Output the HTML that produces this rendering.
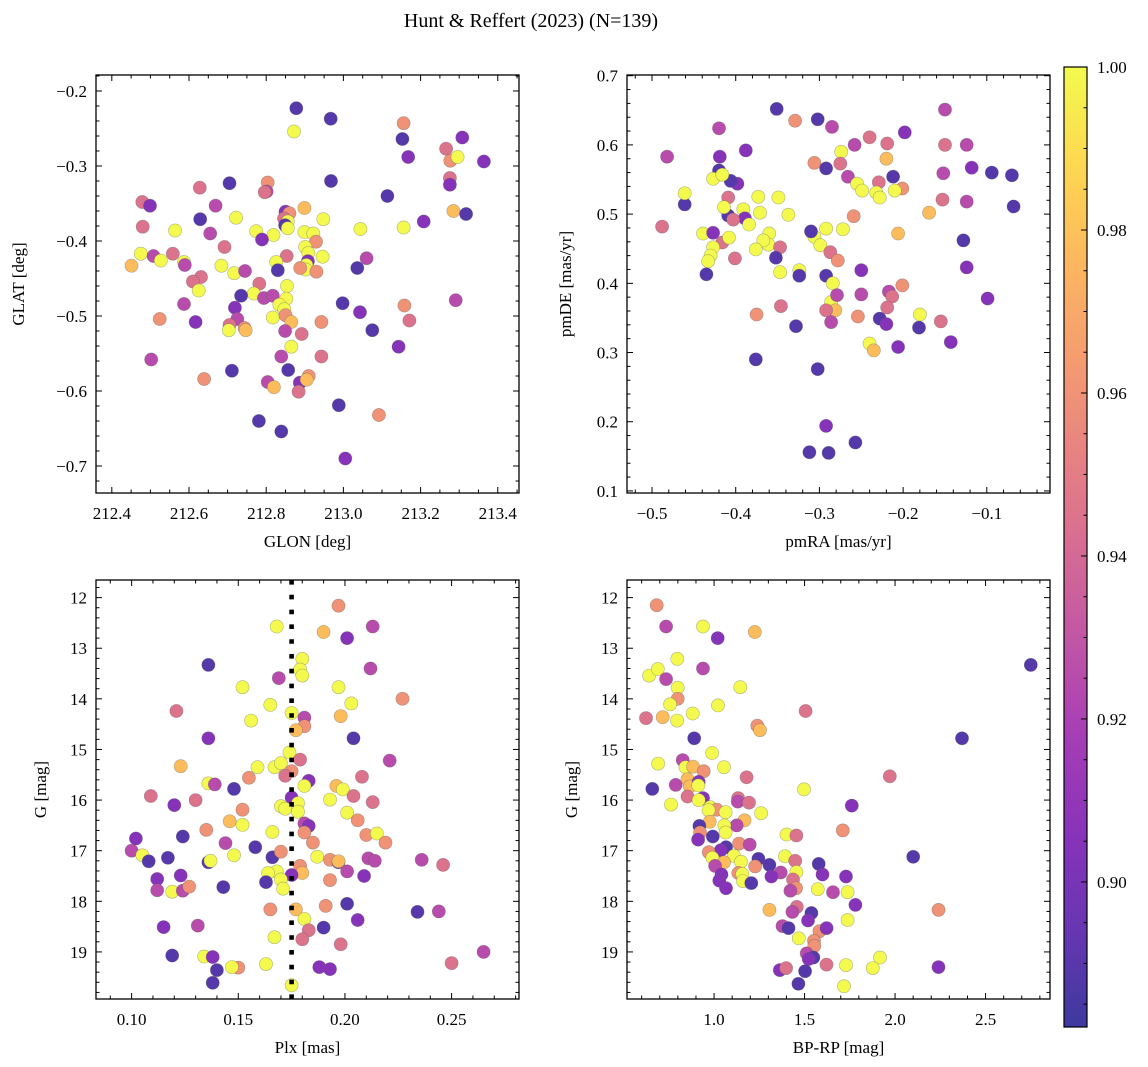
<!DOCTYPE html>
<html><head><meta charset="utf-8"><title>Hunt & Reffert (2023)</title>
<style>
html,body{margin:0;padding:0;background:#fff;}
svg{display:block;font-family:"Liberation Serif","DejaVu Serif",serif;}
</style></head>
<body>
<svg id="fig" width="1148" height="1067" viewBox="0 0 1148 1067" xmlns="http://www.w3.org/2000/svg">
<text x="531" y="27" font-size="20" text-anchor="middle">Hunt &amp; Reffert (2023) (N=139)</text>
</svg>
<script>
// ---- data: [x, y, membership probability] ----
const skyPoints = [[212.878,-0.223,.889],[212.967,-0.237,.889],[212.872,-0.254,1],[213.156,-0.243,.96],[213.153,-0.264,.889],[213.168,-0.288,.905],[213.308,-0.262,.905],[213.266,-0.277,.945],[213.277,-0.293,.96],[213.296,-0.288,1],[213.364,-0.294,.905],[213.276,-0.316,.945],[213.276,-0.325,.905],[213.285,-0.360,.978],[213.318,-0.364,.889],[212.968,-0.320,.889],[213.114,-0.340,.889],[212.705,-0.323,.889],[212.804,-0.322,.96],[212.801,-0.334,.925],[212.796,-0.335,.945],[212.628,-0.329,.945],[212.479,-0.348,.945],[212.499,-0.353,.905],[212.669,-0.353,.925],[212.629,-0.371,.889],[212.899,-0.356,.978],[212.850,-0.361,.905],[212.860,-0.363,.96],[212.846,-0.370,.945],[212.856,-0.374,1],[212.849,-0.379,.889],[212.856,-0.383,1],[212.722,-0.369,1],[212.948,-0.371,1],[212.480,-0.381,.945],[212.564,-0.386,1],[212.655,-0.390,.925],[212.774,-0.387,1],[212.819,-0.392,1],[212.789,-0.398,.905],[212.899,-0.388,1],[212.922,-0.390,1],[212.929,-0.401,.96],[213.044,-0.384,1],[213.156,-0.382,1],[213.208,-0.374,.905],[212.692,-0.408,.945],[212.901,-0.408,1],[212.909,-0.416,1],[212.946,-0.421,1],[212.853,-0.420,.945],[212.908,-0.427,.905],[212.904,-0.432,1],[212.902,-0.438,1],[212.888,-0.436,.96],[212.930,-0.441,.96],[212.826,-0.428,1],[212.830,-0.439,.889],[213.060,-0.423,.925],[213.036,-0.436,.889],[212.475,-0.417,1],[212.508,-0.420,.925],[212.527,-0.426,1],[212.558,-0.417,.945],[212.451,-0.433,.978],[212.587,-0.428,1],[212.589,-0.432,.925],[212.684,-0.433,1],[212.717,-0.443,1],[212.745,-0.440,.925],[212.631,-0.448,.945],[212.610,-0.454,.945],[212.625,-0.466,1],[212.782,-0.457,.945],[212.768,-0.470,1],[212.794,-0.476,.925],[212.817,-0.473,.925],[212.735,-0.473,.889],[212.719,-0.489,.905],[212.854,-0.460,1],[212.852,-0.477,1],[212.834,-0.485,1],[212.847,-0.491,1],[212.817,-0.502,1],[212.850,-0.499,.96],[212.865,-0.508,.978],[212.587,-0.484,.925],[212.524,-0.504,.96],[212.617,-0.508,.905],[212.725,-0.504,.925],[212.705,-0.512,.945],[212.703,-0.519,1],[212.744,-0.516,.96],[212.747,-0.519,.978],[212.849,-0.520,.925],[212.892,-0.524,.945],[212.943,-0.508,.96],[212.998,-0.483,.889],[213.043,-0.495,.905],[213.075,-0.519,.889],[213.158,-0.486,.96],[213.171,-0.506,.945],[213.291,-0.479,.925],[213.143,-0.541,.905],[212.865,-0.541,1],[212.839,-0.554,.925],[212.943,-0.554,.945],[212.502,-0.558,.925],[212.711,-0.573,.889],[212.857,-0.572,.889],[212.639,-0.584,.96],[212.804,-0.588,.925],[212.820,-0.595,.978],[212.887,-0.589,.905],[212.884,-0.601,.945],[212.910,-0.580,.96],[212.905,-0.585,.978],[212.988,-0.619,.889],[213.092,-0.632,.96],[212.781,-0.640,.889],[212.839,-0.654,.889],[213.005,-0.690,.905]];

const pmPoints = [[-0.482,0.583,.925],[-0.461,0.514,.889],[-0.488,0.482,.945],[-0.351,0.652,.889],[-0.302,0.637,.889],[-0.285,0.626,.925],[-0.329,0.635,.96],[-0.420,0.624,.925],[-0.388,0.592,.905],[-0.419,0.583,.905],[-0.420,0.563,.889],[-0.398,0.544,.905],[-0.406,0.548,.889],[-0.427,0.551,1],[-0.416,0.557,1],[-0.461,0.530,1],[-0.274,0.590,1],[-0.306,0.574,.96],[-0.275,0.573,.945],[-0.292,0.566,.889],[-0.266,0.554,.925],[-0.371,0.502,1],[-0.373,0.525,1],[-0.349,0.524,1],[-0.337,0.499,1],[-0.391,0.507,1],[-0.389,0.494,.905],[-0.384,0.485,1],[-0.409,0.524,.945],[-0.409,0.498,.889],[-0.414,0.510,1],[-0.403,0.492,.945],[-0.439,0.472,1],[-0.427,0.473,.905],[-0.416,0.459,.945],[-0.408,0.466,1],[-0.360,0.472,1],[-0.361,0.456,1],[-0.347,0.452,.945],[-0.352,0.437,.889],[-0.367,0.462,1],[-0.306,0.467,1],[-0.310,0.475,.889],[-0.292,0.479,1],[-0.272,0.478,1],[-0.299,0.455,1],[-0.287,0.445,.945],[-0.427,0.452,1],[-0.430,0.440,1],[-0.433,0.432,1],[-0.435,0.413,.889],[-0.401,0.436,.945],[-0.376,0.449,1],[-0.347,0.416,1],[-0.278,0.433,.96],[-0.324,0.419,1],[-0.292,0.411,.889],[-0.284,0.400,1],[-0.286,0.373,1],[-0.324,0.411,.889],[-0.279,0.383,.925],[-0.281,0.361,.978],[-0.375,0.355,.96],[-0.346,0.367,.945],[-0.292,0.361,.945],[-0.328,0.338,.889],[-0.286,0.344,.925],[-0.376,0.290,.889],[-0.302,0.276,.889],[-0.289,0.155,.889],[-0.292,0.194,.905],[-0.312,0.156,.889],[-0.068,0.511,.889],[-0.070,0.556,.889],[-0.094,0.560,.889],[-0.118,0.567,.905],[-0.124,0.600,.925],[-0.150,0.600,.945],[-0.150,0.651,.925],[-0.152,0.559,.925],[-0.153,0.521,.945],[-0.124,0.518,.925],[-0.169,0.502,.978],[-0.198,0.618,.905],[-0.219,0.602,.945],[-0.240,0.611,.945],[-0.258,0.600,.925],[-0.220,0.580,.978],[-0.212,0.554,.889],[-0.201,0.537,.96],[-0.210,0.534,1],[-0.229,0.546,.945],[-0.232,0.531,1],[-0.228,0.524,1],[-0.255,0.544,1],[-0.249,0.534,1],[-0.259,0.497,.96],[-0.206,0.472,.978],[-0.128,0.462,.889],[-0.124,0.423,.905],[-0.250,0.419,.905],[-0.250,0.384,.925],[-0.201,0.397,.96],[-0.217,0.388,.925],[-0.213,0.381,.945],[-0.219,0.365,.945],[-0.099,0.378,.905],[-0.254,0.352,.96],[-0.228,0.349,.889],[-0.220,0.341,.905],[-0.180,0.355,1],[-0.155,0.345,.945],[-0.181,0.336,.889],[-0.143,0.315,.905],[-0.240,0.313,1],[-0.235,0.303,.978],[-0.206,0.308,.905],[-0.257,0.170,.889]];

const plxPoints = [[0.197,12.16,.96],[0.213,12.57,.925],[0.168,12.57,1],[0.190,12.68,.978],[0.201,12.80,.905],[0.180,13.21,1],[0.179,13.42,1],[0.180,13.54,1],[0.212,13.40,.925],[0.136,13.33,.889],[0.169,13.59,.925],[0.152,13.77,1],[0.197,13.77,1],[0.227,14.00,.96],[0.121,14.24,.945],[0.165,14.12,1],[0.203,14.09,1],[0.175,14.28,1],[0.181,14.37,.925],[0.198,14.34,.978],[0.156,14.43,1],[0.181,14.54,.96],[0.177,14.62,.978],[0.136,14.78,.905],[0.204,14.78,.889],[0.174,15.06,1],[0.179,15.20,.945],[0.221,15.22,.925],[0.123,15.33,.978],[0.159,15.35,1],[0.167,15.35,1],[0.170,15.27,1],[0.175,15.43,.96],[0.172,15.52,.945],[0.155,15.56,.96],[0.208,15.54,.945],[0.136,15.67,1],[0.139,15.69,.925],[0.148,15.78,.889],[0.183,15.62,.905],[0.181,15.72,1],[0.196,15.72,.978],[0.199,15.79,1],[0.109,15.92,.945],[0.120,16.10,.905],[0.130,16.00,.945],[0.175,15.95,.905],[0.178,16.06,1],[0.170,16.12,1],[0.172,16.17,1],[0.178,16.23,1],[0.193,15.99,1],[0.204,15.92,.945],[0.213,16.04,.945],[0.201,16.25,1],[0.152,16.19,.96],[0.146,16.42,.978],[0.152,16.49,1],[0.135,16.59,.96],[0.206,16.40,.96],[0.181,16.46,.925],[0.183,16.51,.905],[0.181,16.64,.96],[0.185,16.84,.96],[0.166,16.63,1],[0.210,16.69,.96],[0.215,16.66,1],[0.219,16.84,.96],[0.124,16.72,.889],[0.102,16.76,.905],[0.100,17.00,.925],[0.144,16.85,.925],[0.158,16.93,.889],[0.105,17.09,1],[0.108,17.21,.889],[0.117,17.14,.889],[0.136,17.23,.889],[0.137,17.20,1],[0.148,17.09,1],[0.166,17.13,.889],[0.170,17.02,.96],[0.187,17.12,1],[0.193,17.18,.96],[0.197,17.23,.889],[0.197,17.21,.978],[0.211,17.15,.925],[0.214,17.20,.925],[0.236,17.18,.925],[0.246,17.28,.945],[0.201,17.41,.925],[0.209,17.50,.905],[0.193,17.58,.96],[0.179,17.30,.96],[0.180,17.44,.978],[0.175,17.48,.905],[0.168,17.41,1],[0.164,17.44,1],[0.170,17.57,1],[0.163,17.62,.889],[0.171,17.75,1],[0.112,17.56,.905],[0.123,17.49,.905],[0.112,17.78,.925],[0.119,17.81,1],[0.124,17.79,.925],[0.127,17.71,.96],[0.143,17.72,.889],[0.165,18.16,.96],[0.177,18.16,.978],[0.181,18.35,1],[0.191,18.09,.96],[0.201,18.05,.889],[0.206,18.37,.905],[0.234,18.21,.889],[0.244,18.20,.925],[0.183,18.57,.945],[0.180,18.75,.945],[0.190,18.52,.889],[0.198,18.85,.945],[0.167,18.71,1],[0.115,18.51,.905],[0.131,18.48,.925],[0.119,19.07,.889],[0.134,19.09,1],[0.138,19.10,.905],[0.140,19.36,.889],[0.138,19.61,.889],[0.150,19.31,.96],[0.147,19.30,1],[0.163,19.24,1],[0.188,19.30,.905],[0.193,19.34,.905],[0.250,19.22,.945],[0.265,19.00,.925],[0.175,19.66,1]];

const cmdPoints = [[0.683,12.15,.96],[0.735,12.57,.925],[0.939,12.57,1],[1.020,12.80,.905],[1.225,12.68,.978],[0.797,13.21,1],[0.939,13.40,.925],[0.641,13.54,1],[0.689,13.41,1],[0.735,13.61,.925],[0.799,13.78,1],[1.145,13.77,1],[0.799,14.00,.96],[0.757,14.11,1],[1.022,14.13,1],[0.882,14.29,1],[0.624,14.38,.945],[0.716,14.36,.978],[0.796,14.43,1],[1.506,14.24,.945],[1.239,14.53,.96],[1.254,14.62,.978],[0.890,14.78,.889],[0.989,15.07,1],[0.691,15.28,1],[0.827,15.21,.925],[0.842,15.35,1],[0.884,15.34,.978],[0.943,15.43,.96],[1.055,15.35,1],[1.180,15.55,.945],[1.971,15.53,.945],[0.659,15.78,.889],[0.788,15.70,.925],[0.853,15.59,.978],[0.866,15.73,.978],[0.915,15.64,.905],[0.913,15.71,1],[0.853,15.93,.945],[0.939,15.96,.905],[0.915,16.00,1],[0.762,16.09,1],[1.497,15.79,1],[1.133,15.96,.945],[1.131,16.03,.925],[1.193,16.05,.945],[0.978,16.14,1],[1.015,16.19,.96],[0.970,16.20,1],[1.064,16.24,1],[1.260,16.26,1],[1.761,16.11,.905],[0.976,16.43,.978],[1.168,16.40,.978],[1.125,16.50,.925],[1.057,16.50,1],[1.064,16.64,1],[0.919,16.51,.889],[0.923,16.64,.96],[0.912,16.78,.905],[0.993,16.72,.889],[1.400,16.68,1],[1.455,16.70,.945],[1.711,16.60,.96],[1.066,16.93,.889],[1.037,16.99,.905],[0.971,17.03,.96],[1.138,16.86,.96],[1.197,16.88,.925],[1.110,17.10,1],[1.149,17.22,1],[0.991,17.14,1],[1.055,17.23,.978],[1.006,17.30,.925],[1.245,17.16,.889],[1.306,17.28,.889],[1.227,17.31,.96],[1.392,17.11,1],[1.448,17.20,.945],[1.368,17.43,.925],[1.455,17.42,1],[1.317,17.51,.905],[1.578,17.26,.889],[1.599,17.47,.905],[1.729,17.51,.905],[1.134,17.44,.96],[1.156,17.46,1],[1.160,17.60,1],[1.206,17.64,.889],[1.041,17.47,.905],[1.029,17.59,.905],[1.066,17.74,.905],[1.436,17.57,.945],[1.453,17.74,.96],[1.422,17.79,.925],[1.573,17.76,1],[1.657,17.82,.925],[1.738,17.82,1],[1.781,18.07,.905],[1.306,18.17,.978],[1.457,18.11,.945],[1.433,18.21,.925],[1.538,18.23,.889],[1.519,18.38,.905],[1.738,18.37,1],[1.378,18.49,.925],[1.411,18.53,.889],[1.582,18.59,.96],[1.622,18.53,.905],[1.468,18.73,1],[1.552,18.78,.96],[1.554,18.88,.96],[1.512,19.03,.925],[1.549,19.11,.889],[1.523,19.14,.905],[1.621,19.25,.945],[1.729,19.26,1],[1.917,19.11,1],[1.877,19.32,1],[1.363,19.36,.905],[1.398,19.32,.945],[1.503,19.38,.889],[1.466,19.63,.889],[1.718,19.68,1],[2.100,17.12,.889],[2.370,14.78,.889],[2.750,13.33,.889],[2.240,18.17,.96],[2.240,19.30,.905]];

const plxMedian = [0.175];
const cbarTicks = [0.90, 0.92, 0.94, 0.96, 0.98, 1.00];
const cbarRange = [0.8822, 1.0];
const glonTicks = [212.4, 212.6, 212.8, 213.0, 213.2, 213.4];
const glatTicks = [-0.2, -0.3, -0.4, -0.5, -0.6, -0.7];
const pmraTicks = [-0.5, -0.4, -0.3, -0.2, -0.1];
const pmdeTicks = [0.1, 0.2, 0.3, 0.4, 0.5, 0.6, 0.7];
const plxTicks = [0.10, 0.15, 0.20, 0.25];
const gTicks = [12, 13, 14, 15, 16, 17, 18, 19];
const bprpTicks = [1.0, 1.5, 2.0, 2.5];

// ---- rendering ----
const NS = 'http://www.w3.org/2000/svg';
const svg = document.getElementById('fig');
function el(tag, attrs, parent) {
  const e = document.createElementNS(NS, tag);
  for (const k in attrs) e.setAttribute(k, attrs[k]);
  (parent || svg).appendChild(e);
  return e;
}
const plasma = [[13,8,135],[65,4,157],[106,0,168],[143,13,164],[177,42,144],[204,71,120],[225,100,98],[242,132,75],[252,166,54],[252,206,37],[240,249,33]];
function cmap(v) {
  let t = (v - cbarRange[0]) / (cbarRange[1] - cbarRange[0]);
  t = Math.max(0, Math.min(1, t)) * 10;
  const i = Math.min(9, Math.floor(t)), f = t - i;
  const a = plasma[i], b = plasma[i + 1];
  const c = [0, 1, 2].map(j => Math.round((a[j] + (b[j] - a[j]) * f) * 0.8 + 255 * 0.2));
  return 'rgb(' + c.join(',') + ')';
}
function lin(d0, d1, r0, r1) { return v => r0 + (v - d0) / (d1 - d0) * (r1 - r0); }
function fmt(v, dec) { const s = Math.abs(v).toFixed(dec); return (v < 0 ? '\u2212' : '') + s; }

function panel(cfg) {
  const [L, T, R, B] = cfg.box;
  const sx = lin(cfg.xd[0], cfg.xd[1], L, R);
  const sy = lin(cfg.yd[0], cfg.yd[1], T, B);
  const g = el('g', {});
  
  
  const pg = el('g', {}, g);
  
  
  cfg.data.forEach(d => {
    const c = el('circle', {cx: sx(d[0]).toFixed(1), cy: sy(d[1]).toFixed(1), r: 6.6, fill: cmap(d[2]), stroke: 'rgba(90,90,90,0.45)', 'stroke-width': 0.6}, pg);
    
    
  });
  if (cfg.vline) {
    cfg.vline.forEach(v => {
      const ln = el('line', {x1: sx(v), x2: sx(v), y1: T, y2: B, stroke: '#000', 'stroke-width': 4.6, 'stroke-dasharray': '4.6 10.2'}, g);
      
      
    });
  }
  const tk = el('g', {stroke: '#000', 'stroke-width': 1}, g);
  
  
  const xlo = Math.min(cfg.xd[0], cfg.xd[1]), xhi = Math.max(cfg.xd[0], cfg.xd[1]);
  const ylo = Math.min(cfg.yd[0], cfg.yd[1]), yhi = Math.max(cfg.yd[0], cfg.yd[1]);
  for (let k = Math.ceil(xlo / cfg.xminor - 1e-6); k * cfg.xminor <= xhi + 1e-9; k++) {
    const x = sx(k * cfg.xminor);
    const major = cfg.xt.some(t => Math.abs(t - k * cfg.xminor) < 1e-6);
    const len = major ? 6 : 3.5;
    el('line', {x1: x, x2: x, y1: B, y2: B - len}, tk);
    el('line', {x1: x, x2: x, y1: T, y2: T + len}, tk);
  }
  for (let k = Math.ceil(ylo / cfg.yminor - 1e-6); k * cfg.yminor <= yhi + 1e-9; k++) {
    const y = sy(k * cfg.yminor);
    const major = cfg.yt.some(t => Math.abs(t - k * cfg.yminor) < 1e-6);
    const len = major ? 6 : 3.5;
    el('line', {x1: L, x2: L + len, y1: y, y2: y}, tk);
    el('line', {x1: R, x2: R - len, y1: y, y2: y}, tk);
  }
  const fr = el('rect', {x: L, y: T, width: R - L, height: B - T, fill: 'none', stroke: '#000', 'stroke-width': 1.3}, g);
  
  
  cfg.xt.forEach(t => {
    const tx = el('text', {x: sx(t), y: B + 26, 'font-size': 17, 'text-anchor': 'middle'}, g);
    tx.textContent = fmt(t, cfg.xdec);
    
    
  });
  cfg.yt.forEach(t => {
    const tx = el('text', {x: L - 9, y: sy(t) + 6, 'font-size': 17, 'text-anchor': 'end'}, g);
    tx.textContent = fmt(t, cfg.ydec);
    
    
  });
  const xl = el('text', {x: (L + R) / 2, y: B + 54, 'font-size': 17, 'text-anchor': 'middle'}, g);
  xl.textContent = cfg.xlabel;
  
  
  const yl = el('text', {x: 0, y: 0, 'font-size': 17, 'text-anchor': 'middle', transform: 'translate(' + cfg.ylx + ',' + (T + B) / 2 + ') rotate(-90)'}, g);
  yl.textContent = cfg.ylabel;
  
  
}

panel({name: 'sky-panel', box: [96, 75, 519, 493], xd: [212.359, 213.455], yd: [-0.1787, -0.736], data: skyPoints,
  xt: glonTicks, yt: glatTicks, xminor: 0.05, yminor: 0.02, xdec: 1, ydec: 1, xlabel: 'GLON [deg]', ylabel: 'GLAT [deg]', ylx: 24});
panel({name: 'proper-motion-panel', box: [627, 75, 1050, 493], xd: [-0.5299, -0.0245], yd: [0.701, 0.097], data: pmPoints,
  xt: pmraTicks, yt: pmdeTicks, xminor: 0.02, yminor: 0.02, xdec: 1, ydec: 1, xlabel: 'pmRA [mas/yr]', ylabel: 'pmDE [mas/yr]', ylx: 571});
panel({name: 'parallax-panel', box: [96, 580, 519, 999], xd: [0.0833, 0.2816], yd: [11.652, 19.93], data: plxPoints, vline: plxMedian,
  xt: plxTicks, yt: gTicks, xminor: 0.01, yminor: 0.2, xdec: 2, ydec: 0, xlabel: 'Plx [mas]', ylabel: 'G [mag]', ylx: 46});
panel({name: 'cmd-panel', box: [627, 580, 1050, 999], xd: [0.519, 2.856], yd: [11.652, 19.93], data: cmdPoints,
  xt: bprpTicks, yt: gTicks, xminor: 0.1, yminor: 0.2, xdec: 1, ydec: 0, xlabel: 'BP-RP [mag]', ylabel: 'G [mag]', ylx: 577});

(function () {
  const L = 1064, R = 1087, T = 67, B = 1027;
  const cy = lin(cbarRange[0], cbarRange[1], B, T);
  const g = el('g', {});
  
  
  const defs = el('defs', {}, g);
  const grad = el('linearGradient', {id: 'cbgrad', x1: 0, y1: 1, x2: 0, y2: 0}, defs);
  for (let i = 0; i <= 20; i++) {
    const v = cbarRange[0] + (cbarRange[1] - cbarRange[0]) * i / 20;
    el('stop', {offset: (i / 20), 'stop-color': cmap(v)}, grad);
  }
  const bar = el('rect', {x: L, y: T, width: R - L, height: B - T, fill: 'url(#cbgrad)', stroke: '#000', 'stroke-width': 1.2}, g);
  
  
  const tk = el('g', {stroke: '#000', 'stroke-width': 1}, g);
  for (let k = Math.ceil(cbarRange[0] / 0.005); k * 0.005 <= cbarRange[1] + 1e-9; k++) {
    const v = k * 0.005;
    const major = cbarTicks.some(t => Math.abs(t - v) < 1e-6);
    el('line', {x1: R, x2: R - (major ? 6 : 3.5), y1: cy(v), y2: cy(v)}, tk);
  }
  cbarTicks.forEach(t => {
    const tx = el('text', {x: R + 10, y: cy(t) + 6, 'font-size': 17}, g);
    tx.textContent = t.toFixed(2);
    
    
  });
})();
</script>
</body></html>
